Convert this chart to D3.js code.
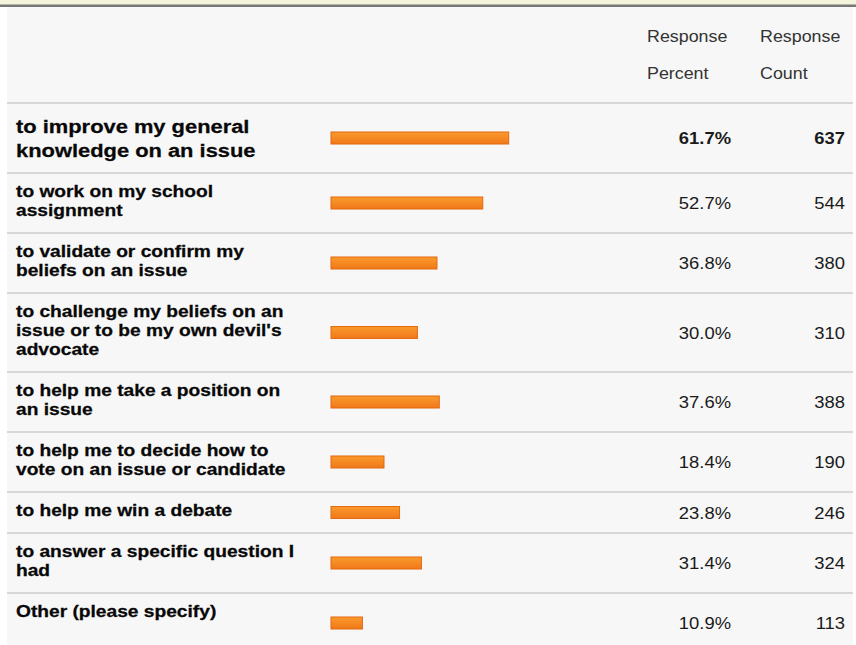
<!DOCTYPE html>
<html>
<head>
<meta charset="utf-8">
<script src="https://cdn.jsdelivr.net/npm/d3@7"></script>
<style>
  html, body { margin: 0; padding: 0; background: #fff; }
  svg { display: block; }
</style>
</head>
<body>
<div id="chart"></div>
<script>
const width = 856, height = 645;

// answers, wrapped the way the survey table shows them
const labels = [
  "to improve my general\nknowledge on an issue",
  "to work on my school\nassignment",
  "to validate or confirm my\nbeliefs on an issue",
  "to challenge my beliefs on an\nissue or to be my own devil's\nadvocate",
  "to help me take a position on\nan issue",
  "to help me to decide how to\nvote on an issue or candidate",
  "to help me win a debate",
  "to answer a specific question I\nhad",
  "Other (please specify)"
];
const percents = [61.7, 52.7, 36.8, 30.0, 37.6, 18.4, 23.8, 31.4, 10.9];
const counts = [637, 544, 380, 310, 388, 190, 246, 324, 113];
const headers = [["Response", "Percent"], ["Response", "Count"]];

const sx = 1.15; // the screenshot text is a bit wide
const labelSx = 1.23;

const svg = d3.select("#chart").append("svg")
  .attr("width", width)
  .attr("height", height);

const defs = svg.append("defs");
const grad = defs.append("linearGradient").attr("id", "barGrad")
  .attr("x1", 0).attr("y1", 0).attr("x2", 0).attr("y2", 1);
grad.append("stop").attr("offset", "0%").attr("stop-color", "#fa9a2c");
grad.append("stop").attr("offset", "100%").attr("stop-color", "#f0781a");

// top strip + panel
svg.append("rect").attr("x", 0).attr("y", 0).attr("width", width).attr("height", 5).attr("fill", "#f4f4dc");
svg.append("rect").attr("x", 0).attr("y", 4.5).attr("width", width).attr("height", 2.5).attr("fill", "#777");
svg.append("rect").attr("x", 7).attr("y", 7).attr("width", 846).attr("height", height - 7).attr("fill", "#f7f7f7");

// headers
const headX = [647, 760];
headers.forEach((h, i) => {
  h.forEach((t, j) => {
    svg.append("text")
      .attr("transform", `translate(${headX[i]},${42 + j * 37}) scale(1.05,1)`)
      .style("font-family", "Arial, 'Liberation Sans', sans-serif")
      .style("font-size", "17px")
      .style("fill", "#333")
      .text(t);
  });
});

// row layout from the number of wrapped lines
const rows = [];
let rowTop = 103;
labels.forEach((l, i) => {
  const lines = l.split("\n");
  const lh = i === 0 ? 24 : 19;
  let h = lines.length * lh + 22;
  if (i === labels.length - 1) h = 60;
  rows.push({ label: lines, pct: percents[i], count: counts[i], top: rowTop, h, lh, first: i === 0 });
  rowTop += h;
});

const x = d3.scaleLinear().domain([0, 100]).range([331, 331 + 288]);

const sepLines = [103].concat(rows.slice(0, -1).map(r => r.top + r.h));
svg.selectAll("line.sep")
  .data(sepLines)
  .enter()
  .append("line")
  .attr("class", "sep")
  .attr("x1", 7).attr("x2", 853)
  .attr("y1", d => d).attr("y2", d => d)
  .attr("stroke", "#d7d7d7")
  .attr("stroke-width", 2);

const row = svg.selectAll("g.row")
  .data(rows)
  .enter()
  .append("g")
  .attr("class", "row");

row.each(function (d) {
  const g = d3.select(this);
  const mid = d.top + d.h / 2;
  d.label.forEach((t, k) => {
    g.append("text")
      .attr("transform", `translate(16,${d.top + (d.first ? 30 : 24) + k * d.lh}) scale(${labelSx},1)`)
      .style("font-family", "Arial, 'Liberation Sans', sans-serif")
      .style("font-size", d.first ? "17.8px" : "15.6px")
      .style("font-weight", "bold")
      .style("fill", "#080808")
      .style("stroke", "#080808")
      .style("stroke-width", 0.25)
      .text(t);
  });

  g.append("rect")
    .attr("x", x(0))
    .attr("y", mid - 6)
    .attr("width", x(d.pct) - x(0))
    .attr("height", 12)
    .attr("fill", "url(#barGrad)")
    .attr("stroke", "#e4690f")
    .attr("stroke-width", 1);

  g.append("text")
    .attr("transform", `translate(731,${mid + 6}) scale(${sx},1)`)
    .attr("text-anchor", "end")
    .style("font-family", "Arial, 'Liberation Sans', sans-serif")
    .style("font-size", "16px")
    .style("font-weight", d.first ? "bold" : "normal")
    .style("fill", "#1a1a1a")
    .text(d.pct.toFixed(1) + "%");

  g.append("text")
    .attr("transform", `translate(845,${mid + 6}) scale(${sx},1)`)
    .attr("text-anchor", "end")
    .style("font-family", "Arial, 'Liberation Sans', sans-serif")
    .style("font-size", "16px")
    .style("font-weight", d.first ? "bold" : "normal")
    .style("fill", "#1a1a1a")
    .text(d.count);
});
</script>
</body>
</html>
